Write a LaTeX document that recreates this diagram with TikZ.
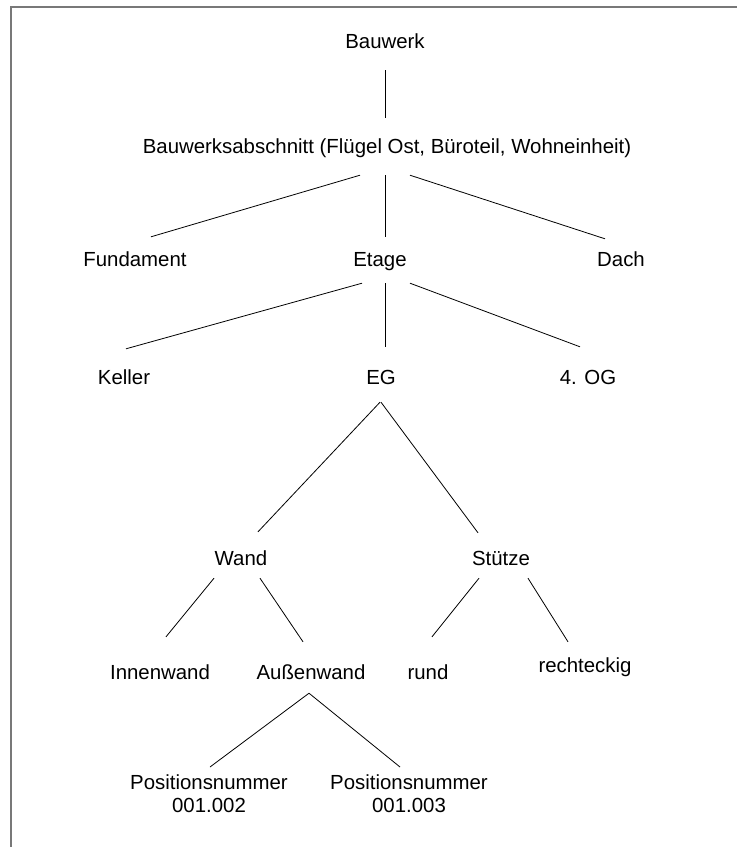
\documentclass[tikz,border=0pt]{standalone}
\usepackage{fontspec}
\setmainfont{Liberation Sans}
\definecolor{framegray}{RGB}{120,120,120}
\tikzset{
  lbl/.style={inner sep=0pt, text height=15pt, text depth=5pt, anchor=base},
  posbox/.style={inner sep=0pt, align=center, anchor=north},
  conn/.style={line width=0.8pt},
}
\begin{document}
\begin{tikzpicture}[x=1pt, y=-1pt, font=\fontsize{20.4}{23}\selectfont]
  \useasboundingbox (0,0) rectangle (737,847);
  \draw[framegray, line width=2pt] (11,847) -- (11,7) -- (737,7);

  \node[lbl] (bauwerk) at (385,48) {Bauwerk};
  \node[lbl] (abschnitt) at (387,153) {Bauwerksabschnitt (Flügel Ost, Büroteil, Wohneinheit)};
  \node[lbl] (fundament) at (135,266) {Fundament};
  \node[lbl] (etage) at (380,266) {Etage};
  \node[lbl] (dach) at (621,266) {Dach};
  \node[lbl] (keller) at (124,384) {Keller};
  \node[lbl] (eg) at (381,384) {EG};
  \node[lbl] (og) at (588,384) {4. OG};
  \node[lbl] (wand) at (241,565) {Wand};
  \node[lbl] (stuetze) at (501,565) {Stütze};
  \node[lbl] (innen) at (160,679) {Innenwand};
  \node[lbl] (aussen) at (311,679) {Außenwand};
  \node[lbl] (rund) at (428,679) {rund};
  \node[lbl] (rechteckig) at (585,672) {rechteckig};
  \node[posbox] (pos1) at (209,775) {Positionsnummer\\001.002};
  \node[posbox] (pos2) at (409,775) {Positionsnummer\\001.003};

  \draw[conn] ([yshift=-17pt]bauwerk.south) -- ([xshift=-2pt,yshift=20pt]abschnitt.north);
  \draw[conn] ([xshift=-27pt,yshift=-17pt]abschnitt.south) -- ([xshift=16pt,yshift=14pt]fundament.north);
  \draw[conn] ([xshift=-2pt,yshift=-17pt]abschnitt.south) -- ([xshift=5pt,yshift=14pt]etage.north);
  \draw[conn] ([xshift=23pt,yshift=-17pt]abschnitt.south) -- ([xshift=-16pt,yshift=12pt]dach.north);
  \draw[conn] ([xshift=-18pt,yshift=-12pt]etage.south) -- ([xshift=2pt,yshift=20pt]keller.north);
  \draw[conn] ([xshift=5pt,yshift=-12pt]etage.south) -- ([xshift=4pt,yshift=22pt]eg.north);
  \draw[conn] ([xshift=30pt,yshift=-12pt]etage.south) -- ([xshift=-8pt,yshift=22pt]og.north);
  \draw[conn] ([xshift=-1pt,yshift=-13pt]eg.south) -- ([xshift=17pt,yshift=18pt]wand.north);
  \draw[conn] ([yshift=-13pt]eg.south) -- ([xshift=-23pt,yshift=17pt]stuetze.north);
  \draw[conn] ([xshift=-27pt,yshift=-8pt]wand.south) -- ([xshift=6pt,yshift=27pt]innen.north);
  \draw[conn] ([xshift=19pt,yshift=-8pt]wand.south) -- ([xshift=-8pt,yshift=22pt]aussen.north);
  \draw[conn] ([xshift=-22pt,yshift=-8pt]stuetze.south) -- ([xshift=4pt,yshift=27pt]rund.north);
  \draw[conn] ([xshift=27pt,yshift=-8pt]stuetze.south) -- ([xshift=-17pt,yshift=15pt]rechteckig.north);
  \draw[conn] ([xshift=-2pt,yshift=-9pt]aussen.south) -- ([xshift=1pt,yshift=8pt]pos1.north);
  \draw[conn] ([xshift=-2pt,yshift=-9pt]aussen.south) -- ([xshift=-9pt,yshift=8pt]pos2.north);
\end{tikzpicture}
\end{document}
